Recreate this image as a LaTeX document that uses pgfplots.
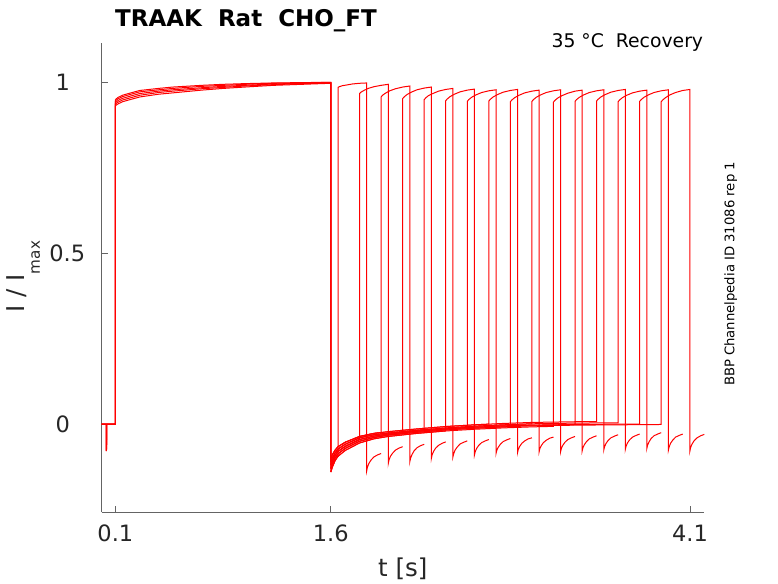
\documentclass[border=0pt]{standalone}
\usepackage{fontspec}
\setmainfont{DejaVu Sans}
\usepackage{pgfplots}
\pgfplotsset{compat=1.18}
\definecolor{txt}{RGB}{38,38,38}
\definecolor{axgray}{RGB}{100,100,100}
\begin{document}
\begin{tikzpicture}
\begin{axis}[
 scale only axis, width=602.6pt, height=468.7pt,
 xmin=0.005, xmax=4.2, ymin=-0.257, ymax=1.114,
 axis x line*=bottom, axis y line*=left,
 axis line style={axgray, line width=0.8pt, -},
 xtick={0.1,1.6,4.1}, xticklabels={0.1,1.6,4.1},
 ytick={0,0.5,1}, yticklabels={0,\hspace*{9pt}0.5,1},
 tick align=inside, major tick length=6pt,
 tick style={axgray, line width=0.8pt},
 /pgf/number format/assume math mode=true,
 xticklabel style={font=\fontsize{22.5}{27}\selectfont, text=txt, anchor=base, yshift=-29.7pt},
 yticklabel style={font=\fontsize{22.5}{27}\selectfont, text=txt, anchor=center, xshift=-39pt},
 tr/.style={red, line width=1pt},
]
% first pulses (pre-pulse, step, drop)
\addplot[tr] coordinates {(0.005,0)(0.036,0)(0.036,-0.079)(0.037,0)(0.1,0)(0.1,0.948)(0.105,0.951)(0.12,0.956)(0.15,0.962)(0.2,0.968)(0.27,0.976)(0.4,0.982)(0.5,0.986)(0.7,0.991)(0.85,0.994)(1.0,0.996)(1.2,0.998)(1.4,0.999)(1.6,1.000)(1.6,-0.100)};
\addplot[tr] coordinates {(0.005,0)(0.037,0)(0.037,-0.077)(0.038,0)(0.1,0)(0.1,0.944)(0.105,0.947)(0.12,0.952)(0.15,0.958)(0.2,0.964)(0.27,0.972)(0.4,0.978)(0.5,0.982)(0.7,0.988)(0.85,0.991)(1.0,0.994)(1.2,0.997)(1.4,0.998)(1.6,1.000)(1.6,-0.110)};
\addplot[tr] coordinates {(0.005,0)(0.038,0)(0.038,-0.079)(0.039,0)(0.1,0)(0.1,0.939)(0.105,0.942)(0.12,0.947)(0.15,0.953)(0.2,0.959)(0.27,0.967)(0.4,0.974)(0.5,0.978)(0.7,0.984)(0.85,0.988)(1.0,0.991)(1.2,0.995)(1.4,0.997)(1.6,0.999)(1.6,-0.120)};
\addplot[tr] coordinates {(0.005,0)(0.039,0)(0.039,-0.075)(0.040,0)(0.1,0)(0.1,0.935)(0.105,0.938)(0.12,0.942)(0.15,0.948)(0.2,0.954)(0.27,0.962)(0.4,0.970)(0.5,0.974)(0.7,0.981)(0.85,0.985)(1.0,0.989)(1.2,0.993)(1.4,0.996)(1.6,0.998)(1.6,-0.130)};
\addplot[tr] coordinates {(0.005,0)(0.040,0)(0.040,-0.072)(0.041,0)(0.1,0)(0.1,0.930)(0.105,0.933)(0.12,0.937)(0.15,0.943)(0.2,0.949)(0.27,0.957)(0.4,0.965)(0.5,0.969)(0.7,0.977)(0.85,0.982)(1.0,0.986)(1.2,0.991)(1.4,0.994)(1.6,0.997)(1.6,-0.140)};
% sweep 1
\addplot[tr] coordinates {(1.6,-0.140)(1.61,-0.126)(1.63,-0.106)(1.65,-0.094)(1.65,0.985)(1.66,0.987)(1.68,0.990)(1.71,0.992)(1.75,0.995)(1.80,0.997)(1.85,0.998)(1.85,-0.136)(1.855,-0.126)(1.865,-0.115)(1.88,-0.105)(1.90,-0.096)(1.925,-0.090)(1.95,-0.086)};
% sweep 2
\addplot[tr] coordinates {(1.6,-0.120)(1.61,-0.108)(1.63,-0.091)(1.65,-0.080)(1.7,-0.065)(1.8,-0.045)(1.80,0.967)(1.81,0.971)(1.83,0.976)(1.86,0.982)(1.90,0.987)(1.95,0.991)(2.00,0.994)(2.00,-0.115)(2.005,-0.105)(2.015,-0.094)(2.03,-0.085)(2.05,-0.076)(2.075,-0.070)(2.10,-0.066)};
% sweep 3
\addplot[tr] coordinates {(1.6,-0.100)(1.61,-0.090)(1.63,-0.076)(1.65,-0.066)(1.7,-0.053)(1.8,-0.036)(1.9,-0.027)(1.95,-0.0245)(1.95,0.957)(1.96,0.962)(1.98,0.968)(2.01,0.975)(2.05,0.981)(2.10,0.986)(2.15,0.989)(2.15,-0.110)(2.155,-0.100)(2.165,-0.089)(2.18,-0.078)(2.20,-0.069)(2.225,-0.063)(2.25,-0.059)};
% sweep 4
\addplot[tr] coordinates {(1.6,-0.130)(1.61,-0.117)(1.63,-0.099)(1.65,-0.087)(1.7,-0.071)(1.8,-0.050)(1.9,-0.039)(2.0,-0.032)(2.1,-0.028)(2.10,0.952)(2.11,0.957)(2.13,0.964)(2.16,0.971)(2.20,0.978)(2.25,0.983)(2.30,0.986)(2.30,-0.100)(2.305,-0.090)(2.315,-0.080)(2.33,-0.070)(2.35,-0.062)(2.375,-0.056)(2.40,-0.052)};
% sweep 5
\addplot[tr] coordinates {(1.6,-0.110)(1.61,-0.099)(1.63,-0.084)(1.65,-0.073)(1.7,-0.059)(1.8,-0.040)(1.9,-0.031)(2.0,-0.026)(2.2,-0.018)(2.25,-0.016)(2.25,0.949)(2.26,0.954)(2.28,0.961)(2.31,0.967)(2.35,0.974)(2.40,0.979)(2.45,0.982)(2.45,-0.096)(2.455,-0.087)(2.465,-0.076)(2.48,-0.067)(2.50,-0.058)(2.525,-0.053)(2.55,-0.049)};
% sweep 6
\addplot[tr] coordinates {(1.6,-0.140)(1.61,-0.126)(1.63,-0.106)(1.65,-0.094)(1.7,-0.077)(1.8,-0.055)(1.9,-0.043)(2.0,-0.036)(2.2,-0.027)(2.4,-0.020)(2.40,0.946)(2.41,0.951)(2.43,0.958)(2.46,0.965)(2.50,0.972)(2.55,0.977)(2.60,0.980)(2.60,-0.090)(2.605,-0.081)(2.615,-0.071)(2.63,-0.062)(2.65,-0.054)(2.675,-0.049)(2.70,-0.045)};
% sweep 7
\addplot[tr] coordinates {(1.6,-0.120)(1.61,-0.108)(1.63,-0.091)(1.65,-0.080)(1.7,-0.065)(1.8,-0.045)(1.9,-0.035)(2.0,-0.029)(2.2,-0.021)(2.4,-0.014)(2.55,-0.010)(2.55,0.944)(2.56,0.949)(2.58,0.956)(2.61,0.963)(2.65,0.970)(2.70,0.975)(2.75,0.978)(2.75,-0.086)(2.755,-0.077)(2.765,-0.068)(2.78,-0.059)(2.80,-0.051)(2.825,-0.046)(2.85,-0.042)};
% sweep 8
\addplot[tr] coordinates {(1.6,-0.100)(1.61,-0.090)(1.63,-0.076)(1.65,-0.066)(1.7,-0.053)(1.8,-0.036)(1.9,-0.027)(2.0,-0.022)(2.2,-0.014)(2.4,-0.007)(2.6,-0.002)(2.7,0.000)(2.70,0.945)(2.71,0.950)(2.73,0.957)(2.76,0.964)(2.80,0.971)(2.85,0.976)(2.90,0.979)(2.90,-0.083)(2.905,-0.074)(2.915,-0.065)(2.93,-0.056)(2.95,-0.049)(2.975,-0.043)(3.00,-0.040)};
% sweep 9
\addplot[tr] coordinates {(1.6,-0.130)(1.61,-0.117)(1.63,-0.099)(1.65,-0.087)(1.7,-0.071)(1.8,-0.050)(1.9,-0.039)(2.0,-0.032)(2.2,-0.024)(2.4,-0.017)(2.6,-0.012)(2.8,-0.008)(2.85,-0.007)(2.85,0.943)(2.86,0.948)(2.88,0.955)(2.91,0.962)(2.95,0.969)(3.00,0.974)(3.05,0.977)(3.05,-0.081)(3.055,-0.072)(3.065,-0.063)(3.08,-0.054)(3.10,-0.047)(3.125,-0.041)(3.15,-0.038)};
% sweep 10
\addplot[tr] coordinates {(1.6,-0.110)(1.61,-0.099)(1.63,-0.084)(1.65,-0.073)(1.7,-0.059)(1.8,-0.040)(1.9,-0.031)(2.0,-0.026)(2.2,-0.018)(2.4,-0.011)(2.6,-0.006)(2.8,-0.002)(3.0,0.001)(3.00,0.944)(3.01,0.949)(3.03,0.956)(3.06,0.963)(3.10,0.970)(3.15,0.975)(3.20,0.978)(3.20,-0.080)(3.205,-0.071)(3.215,-0.062)(3.23,-0.053)(3.25,-0.045)(3.275,-0.040)(3.30,-0.036)};
% sweep 11
\addplot[tr] coordinates {(1.6,-0.140)(1.61,-0.126)(1.63,-0.106)(1.65,-0.094)(1.7,-0.077)(1.8,-0.055)(1.9,-0.043)(2.0,-0.036)(2.2,-0.027)(2.4,-0.020)(2.6,-0.015)(2.8,-0.011)(3.0,-0.008)(3.15,-0.0065)(3.15,0.942)(3.16,0.947)(3.18,0.954)(3.21,0.961)(3.25,0.968)(3.30,0.974)(3.35,0.977)(3.35,-0.078)(3.355,-0.069)(3.365,-0.060)(3.38,-0.051)(3.40,-0.043)(3.425,-0.038)(3.45,-0.034)};
% sweep 12
\addplot[tr] coordinates {(1.6,-0.120)(1.61,-0.108)(1.63,-0.091)(1.65,-0.080)(1.7,-0.065)(1.8,-0.045)(1.9,-0.035)(2.0,-0.029)(2.2,-0.021)(2.4,-0.014)(2.6,-0.009)(2.8,-0.005)(3.0,-0.003)(3.3,-0.001)(3.30,0.944)(3.31,0.949)(3.33,0.956)(3.36,0.963)(3.40,0.970)(3.45,0.975)(3.50,0.978)(3.50,-0.076)(3.505,-0.067)(3.515,-0.057)(3.53,-0.048)(3.55,-0.040)(3.575,-0.035)(3.60,-0.031)};
% sweep 13
\addplot[tr] coordinates {(1.6,-0.100)(1.61,-0.090)(1.63,-0.076)(1.65,-0.066)(1.7,-0.053)(1.8,-0.036)(1.9,-0.027)(2.0,-0.022)(2.2,-0.014)(2.4,-0.007)(2.6,-0.002)(2.8,0.002)(3.0,0.005)(3.3,0.007)(3.45,0.0075)(3.45,0.945)(3.46,0.950)(3.48,0.957)(3.51,0.964)(3.55,0.971)(3.60,0.976)(3.65,0.979)(3.65,-0.074)(3.655,-0.065)(3.665,-0.055)(3.68,-0.046)(3.70,-0.038)(3.725,-0.033)(3.75,-0.029)};
% sweep 14
\addplot[tr] coordinates {(1.6,-0.110)(1.61,-0.099)(1.63,-0.084)(1.65,-0.073)(1.7,-0.059)(1.8,-0.040)(1.9,-0.031)(2.0,-0.026)(2.2,-0.018)(2.4,-0.011)(2.6,-0.006)(2.8,-0.002)(3.0,0.001)(3.3,0.003)(3.6,0.004)(3.60,0.943)(3.61,0.948)(3.63,0.955)(3.66,0.962)(3.70,0.969)(3.75,0.974)(3.80,0.977)(3.80,-0.071)(3.805,-0.062)(3.815,-0.052)(3.83,-0.042)(3.85,-0.034)(3.875,-0.029)(3.90,-0.025)};
% sweep 15
\addplot[tr] coordinates {(1.6,-0.120)(1.61,-0.108)(1.63,-0.091)(1.65,-0.080)(1.7,-0.065)(1.8,-0.045)(1.9,-0.035)(2.0,-0.029)(2.2,-0.021)(2.4,-0.014)(2.6,-0.009)(2.8,-0.005)(3.0,-0.003)(3.3,-0.001)(3.6,0.000)(3.75,0.000)(3.75,0.944)(3.76,0.949)(3.78,0.956)(3.81,0.963)(3.85,0.970)(3.90,0.975)(3.95,0.978)(3.95,-0.076)(3.955,-0.067)(3.965,-0.056)(3.98,-0.047)(4.00,-0.038)(4.025,-0.033)(4.05,-0.029)};
% sweep 16
\addplot[tr] coordinates {(1.6,-0.130)(1.61,-0.117)(1.63,-0.099)(1.65,-0.087)(1.7,-0.071)(1.8,-0.050)(1.9,-0.039)(2.0,-0.032)(2.2,-0.024)(2.4,-0.017)(2.6,-0.012)(2.8,-0.008)(3.0,-0.005)(3.3,-0.003)(3.6,-0.002)(3.9,-0.001)(3.90,0.943)(3.91,0.948)(3.93,0.955)(3.96,0.963)(4.00,0.970)(4.05,0.976)(4.10,0.979)(4.10,-0.078)(4.105,-0.068)(4.115,-0.058)(4.13,-0.048)(4.15,-0.040)(4.175,-0.034)(4.20,-0.030)};
\end{axis}
\node[anchor=base west, inner sep=0, font=\fontsize{23}{28}\selectfont\bfseries] at (13.3pt,485.3pt) {TRAAK\ \ Rat\ \ CHO\_FT};
\node[anchor=base east, inner sep=0, font=\fontsize{18.8}{22}\selectfont] at (601.6pt,464.7pt) {35 °C\ \ Recovery};
\node[rotate=90, anchor=base, inner sep=0, font=\fontsize{13.2}{16}\selectfont] at (632.6pt,238pt) {BBP Channelpedia ID 31086 rep 1};
\node[anchor=base, inner sep=0, font=\fontsize{24.5}{29}\selectfont, text=txt] at (301.1pt,-64pt) {t [s]};
\node[rotate=90, anchor=base, inner sep=0, font=\fontsize{24.5}{29}\selectfont, text=txt] at (-76.7pt,235.3pt) {I / I\raisebox{-15pt}{\fontsize{15.2}{18}\selectfont max}};
\pgfresetboundingbox
\path[use as bounding box] (-101.7pt,-71pt) rectangle (676.3pt,512pt);
\end{tikzpicture}
\end{document}
